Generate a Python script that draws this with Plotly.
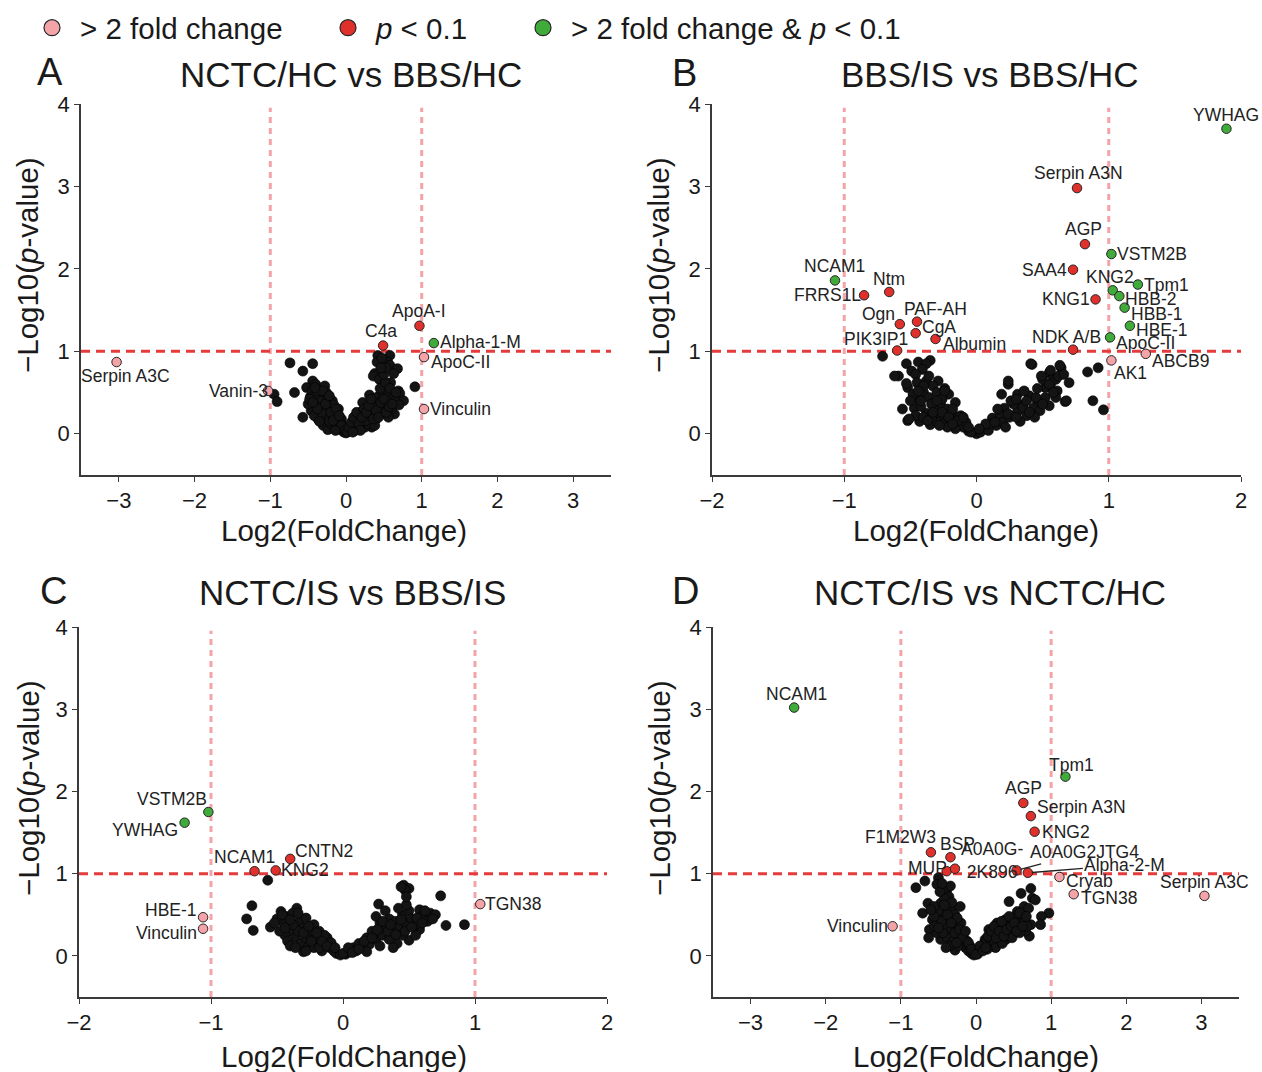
import plotly.graph_objects as go

FONT = "Liberation Sans, Arial, Helvetica, sans-serif"
W, H = 1262, 1072

# ======================= DATA =======================
# thresholds
fc_cut = 1.0          # |log2 fold change| = 1  (2-fold)
p_cut = 1.0           # -log10(0.1)

panel_letters = ["A", "B", "C", "D"]
panel_titles = ["NCTC/HC vs BBS/HC", "BBS/IS vs BBS/HC",
                "NCTC/IS vs BBS/IS", "NCTC/IS vs NCTC/HC"]
x_ticks_wide = [-3, -2, -1, 0, 1, 2, 3]
x_ticks_narrow = [-2, -1, 0, 1, 2]
y_ticks = [0, 1, 2, 3, 4]
x_title = "Log2(FoldChange)"
y_title = "\u2212Log10(<i>p</i>-value)"
legend_labels = {"fc": "&gt; 2 fold change",
                 "p": "<i>p</i> &lt; 0.1",
                 "both": "&gt; 2 fold change &amp; <i>p</i> &lt; 0.1"}

# ---- Panel A: non-significant proteins (log2FC, -log10 p) ----
a_ns = [(-0.95, 0.48), (-0.91, 0.39), (-0.74, 0.86), (-0.68, 0.50), (-0.57, 0.76), (-0.57, 0.20),
        (-0.44, 0.85), (-0.44, 0.64), (-0.52, 0.56), (-0.47, 0.45), (-0.40, 0.60), (-0.36, 0.50),
        (-0.28, 0.58), (-0.30, 0.44), (-0.33, 0.34), (-0.38, 0.40), (-0.42, 0.30), (-0.35, 0.25),
        (-0.30, 0.20), (-0.25, 0.38), (-0.22, 0.30), (-0.26, 0.12), (-0.20, 0.18), (-0.18, 0.40),
        (-0.15, 0.28), (-0.12, 0.22), (-0.14, 0.12), (-0.10, 0.15), (-0.08, 0.08), (-0.05, 0.05),
        (-0.03, 0.02), (0.00, 0.01), (-0.18, 0.08), (-0.22, 0.22), (-0.30, 0.10), (-0.37, 0.18),
        (-0.46, 0.28), (-0.50, 0.36), (-0.33, 0.48), (-0.26, 0.50), (-0.16, 0.35), (-0.10, 0.30),
        (-0.06, 0.18), (-0.04, 0.10), (-0.12, 0.05), (-0.28, 0.30), (-0.24, 0.05), (-0.20, 0.12),
        (-0.45, 0.52), (-0.40, 0.48), (-0.32, 0.40), (-0.24, 0.45), (-0.35, 0.32), (-0.42, 0.22),
        (-0.48, 0.42), (-0.38, 0.52), (-0.28, 0.24), (-0.22, 0.15), (-0.16, 0.20), (-0.08, 0.12),
        (-0.02, 0.06), (-0.35, 0.15), (-0.32, 0.26), (-0.27, 0.36), (-0.20, 0.26), (-0.17, 0.16),
        (-0.13, 0.30), (-0.09, 0.22), (-0.06, 0.10), (-0.01, 0.04), (-0.14, 0.04), (-0.38, 0.30),
        (-0.44, 0.38), (-0.31, 0.52), (-0.41, 0.56), (-0.22, 0.46),
        (0.42, 0.95), (0.58, 0.95), (0.41, 0.87), (0.55, 0.87), (0.58, 0.83), (0.68, 0.79),
        (0.63, 0.73), (0.38, 0.73), (0.36, 0.70), (0.44, 0.66), (0.59, 0.62), (0.51, 0.58),
        (0.69, 0.52), (0.91, 0.57), (0.71, 0.49), (0.76, 0.40), (0.64, 0.24), (0.31, 0.47),
        (0.34, 0.08), (0.05, 0.04), (0.08, 0.10), (0.10, 0.06), (0.12, 0.15), (0.15, 0.10),
        (0.18, 0.20), (0.20, 0.14), (0.22, 0.28), (0.25, 0.22), (0.28, 0.35), (0.30, 0.18),
        (0.32, 0.30), (0.35, 0.40), (0.38, 0.25), (0.40, 0.35), (0.42, 0.45), (0.45, 0.30),
        (0.48, 0.40), (0.50, 0.50), (0.52, 0.35), (0.55, 0.45), (0.58, 0.38), (0.60, 0.30),
        (0.62, 0.42), (0.48, 0.25), (0.40, 0.18), (0.25, 0.08), (0.15, 0.20), (0.28, 0.12),
        (0.38, 0.10), (0.22, 0.38), (0.36, 0.32), (0.65, 0.40), (0.56, 0.20), (0.45, 0.55),
        (0.52, 0.62), (0.58, 0.55), (0.66, 0.50), (0.70, 0.35), (0.50, 0.72), (0.47, 0.92),
        (0.53, 0.80), (0.46, 0.80), (0.02, 0.02), (0.12, 0.04), (0.18, 0.08), (0.26, 0.16),
        (0.33, 0.22), (0.42, 0.26), (0.50, 0.30), (0.55, 0.28), (0.04, 0.08), (0.07, 0.14),
        (0.10, 0.20), (0.14, 0.26), (0.17, 0.12), (0.21, 0.20), (0.24, 0.30), (0.27, 0.26),
        (0.30, 0.34), (0.33, 0.42), (0.36, 0.18), (0.40, 0.28), (0.43, 0.20), (0.46, 0.38),
        (0.50, 0.42), (0.53, 0.26), (0.57, 0.33), (0.61, 0.36), (0.19, 0.04), (0.09, 0.02)]
a_names = ["Serpin A3C", "Vanin-3", "C4a", "ApoA-I", "Alpha-1-M", "ApoC-II", "Vinculin"]
a_fc = [-3.03, -1.03, 0.49, 0.97, 1.16, 1.03, 1.03]
a_lp = [0.87, 0.52, 1.07, 1.31, 1.10, 0.93, 0.30]
a_cls = ["fc", "fc", "p", "p", "both", "fc", "fc"]

# ---- Panel B ----
b_ns = [(-0.71, 0.94), (-0.53, 0.85), (-0.44, 0.87), (-0.35, 0.89), (-0.38, 0.85), (-0.59, 0.70),
        (-0.49, 0.76), (-0.41, 0.78), (-0.46, 0.72), (-0.52, 0.56), (-0.38, 0.64), (-0.29, 0.64),
        (-0.33, 0.58), (-0.45, 0.62), (-0.47, 0.31), (-0.52, 0.16), (-0.43, 0.15), (-0.35, 0.11),
        (-0.21, 0.48), (-0.27, 0.35), (-0.18, 0.23), (-0.12, 0.11), (-0.06, 0.03), (0.00, 0.00),
        (-0.40, 0.50), (-0.44, 0.42), (-0.36, 0.44), (-0.30, 0.50), (-0.24, 0.55), (-0.32, 0.30),
        (-0.38, 0.25), (-0.42, 0.33), (-0.28, 0.20), (-0.22, 0.30), (-0.16, 0.38), (-0.26, 0.42),
        (-0.34, 0.36), (-0.30, 0.14), (-0.24, 0.12), (-0.20, 0.18), (-0.14, 0.16), (-0.10, 0.08),
        (-0.16, 0.06), (-0.08, 0.14), (-0.04, 0.02), (-0.22, 0.08), (-0.48, 0.48), (-0.40, 0.58),
        (-0.36, 0.70), (-0.30, 0.40), (-0.18, 0.30), (-0.12, 0.22), (-0.26, 0.26), (-0.46, 0.22),
        (-0.40, 0.20), (-0.34, 0.20), (-0.62, 0.70), (-0.53, 0.61), (-0.44, 0.52), (-0.24, 0.52),
        (-0.51, 0.18), (-0.37, 0.16), (-0.21, 0.20), (-0.14, 0.16), (-0.06, 0.08), (-0.42, 0.40),
        (-0.33, 0.26), (-0.28, 0.10), (-0.18, 0.12), (-0.10, 0.20), (-0.50, 0.40), (-0.56, 0.30),
        (0.42, 0.84), (0.55, 0.74), (0.64, 0.80), (0.58, 0.68), (0.52, 0.56), (0.61, 0.52),
        (0.67, 0.39), (0.84, 0.75), (0.92, 0.80), (0.88, 0.40), (0.96, 0.29), (0.24, 0.60),
        (0.31, 0.48), (0.40, 0.46), (0.46, 0.39), (0.21, 0.31), (0.12, 0.19), (0.18, 0.23),
        (0.31, 0.27), (0.43, 0.31), (0.06, 0.07), (0.03, 0.02), (0.09, 0.04), (0.15, 0.10),
        (0.20, 0.14), (0.25, 0.20), (0.28, 0.36), (0.35, 0.35), (0.38, 0.22), (0.48, 0.28),
        (0.52, 0.44), (0.56, 0.60), (0.60, 0.66), (0.62, 0.70), (0.50, 0.66), (0.36, 0.52),
        (0.26, 0.40), (0.16, 0.30), (0.10, 0.12), (0.22, 0.08), (0.33, 0.15), (0.44, 0.20),
        (0.55, 0.34), (0.60, 0.44), (0.66, 0.72), (0.70, 0.62), (0.19, 0.48), (0.24, 0.64),
        (0.41, 0.85), (0.49, 0.70), (0.56, 0.77), (0.63, 0.83), (0.55, 0.60), (0.68, 0.40),
        (0.45, 0.44), (0.35, 0.32), (0.24, 0.24), (0.07, 0.12), (0.02, 0.06), (0.14, 0.14),
        (0.30, 0.20), (0.40, 0.26), (0.50, 0.36), (0.58, 0.50), (0.46, 0.55), (0.38, 0.40),
        (0.30, 0.42)]
b_names = ["YWHAG", "Serpin A3N", "AGP", "VSTM2B", "SAA4", "KNG2", "Tpm1", "HBB-2", "KNG1",
           "HBB-1", "HBE-1", "ApoC-II", "NDK A/B", "ABCB9", "AK1", "NCAM1", "FRRS1L", "Ntm",
           "Ogn", "PAF-AH", "CgA", "Albumin", "PIK3IP1"]
b_fc = [1.89, 0.76, 0.82, 1.02, 0.73, 1.03, 1.22, 1.08, 0.90, 1.12, 1.16, 1.01, 0.73, 1.28,
        1.02, -1.07, -0.85, -0.66, -0.58, -0.45, -0.46, -0.31, -0.60]
b_lp = [3.70, 2.98, 2.30, 2.18, 1.99, 1.74, 1.81, 1.67, 1.63, 1.53, 1.31, 1.17, 1.02, 0.97,
        0.89, 1.86, 1.68, 1.72, 1.33, 1.36, 1.22, 1.15, 1.01]
b_cls = ["both", "p", "p", "both", "p", "both", "both", "both", "p", "both", "both", "both",
         "p", "fc", "fc", "both", "p", "p", "p", "p", "p", "p", "p"]

# ---- Panel C ----
c_ns = [(-0.57, 0.92), (-0.69, 0.61), (-0.73, 0.45), (-0.68, 0.31), (-0.55, 0.35), (-0.47, 0.54),
        (-0.35, 0.58), (-0.42, 0.48), (-0.38, 0.52), (-0.33, 0.42), (-0.45, 0.40), (-0.40, 0.30),
        (-0.36, 0.22), (-0.30, 0.34), (-0.28, 0.46), (-0.25, 0.28), (-0.22, 0.38), (-0.20, 0.20),
        (-0.18, 0.30), (-0.15, 0.14), (-0.12, 0.22), (-0.10, 0.10), (-0.07, 0.06), (-0.05, 0.03),
        (-0.02, 0.01), (-0.32, 0.15), (-0.26, 0.12), (-0.44, 0.25), (-0.50, 0.45), (-0.48, 0.30),
        (-0.42, 0.18), (-0.34, 0.30), (-0.28, 0.22), (-0.22, 0.10), (-0.16, 0.06), (-0.30, 0.05),
        (-0.38, 0.38), (-0.46, 0.50), (-0.24, 0.18), (-0.14, 0.25), (-0.09, 0.16), (-0.18, 0.10),
        (-0.52, 0.40), (-0.40, 0.12), (-0.30, 0.28), (-0.26, 0.36), (-0.20, 0.28), (-0.16, 0.18),
        (-0.12, 0.12), (-0.06, 0.10), (-0.34, 0.52), (-0.40, 0.44), (-0.44, 0.34), (-0.36, 0.10),
        (-0.28, 0.06),
        (0.46, 0.86), (0.50, 0.82), (0.47, 0.80), (0.74, 0.73), (0.78, 0.37), (0.92, 0.38),
        (0.58, 0.56), (0.66, 0.52), (0.58, 0.32), (0.50, 0.19), (0.41, 0.15), (0.27, 0.63),
        (0.02, 0.02), (0.05, 0.05), (0.08, 0.10), (0.10, 0.06), (0.12, 0.15), (0.15, 0.10),
        (0.18, 0.22), (0.20, 0.14), (0.22, 0.30), (0.25, 0.20), (0.28, 0.40), (0.30, 0.25),
        (0.32, 0.35), (0.35, 0.45), (0.38, 0.30), (0.40, 0.42), (0.43, 0.35), (0.45, 0.50),
        (0.48, 0.40), (0.50, 0.55), (0.52, 0.45), (0.55, 0.38), (0.60, 0.48), (0.62, 0.55),
        (0.64, 0.42), (0.70, 0.50), (0.35, 0.20), (0.28, 0.12), (0.45, 0.25), (0.55, 0.25),
        (0.18, 0.05), (0.38, 0.10), (0.32, 0.55), (0.25, 0.48), (0.42, 0.58), (0.48, 0.62),
        (0.00, 0.03), (0.04, 0.10), (0.07, 0.04), (0.12, 0.08), (0.16, 0.18), (0.22, 0.22),
        (0.26, 0.32), (0.30, 0.42), (0.34, 0.30), (0.36, 0.38), (0.40, 0.26), (0.44, 0.44),
        (0.47, 0.30), (0.52, 0.35), (0.56, 0.46), (0.44, 0.84), (0.48, 0.72), (0.60, 0.40),
        (0.68, 0.45)]
c_names = ["VSTM2B", "YWHAG", "CNTN2", "NCAM1", "KNG2", "HBE-1", "Vinculin", "TGN38"]
c_fc = [-1.02, -1.20, -0.40, -0.67, -0.51, -1.06, -1.06, 1.04]
c_lp = [1.75, 1.62, 1.18, 1.03, 1.04, 0.47, 0.33, 0.63]
c_cls = ["both", "both", "p", "p", "p", "fc", "fc", "fc"]

# ---- Panel D ----
d_ns = [(-0.80, 0.83), (-0.68, 0.91), (-0.50, 0.95), (-0.52, 0.87), (-0.39, 0.80), (-0.36, 0.72),
        (-0.31, 0.60), (-0.21, 0.60), (-0.47, 0.64), (-0.64, 0.64), (-0.71, 0.52), (-0.58, 0.44),
        (-0.62, 0.32), (-0.63, 0.22), (-0.47, 0.20), (-0.28, 0.07), (-0.42, 0.36), (-0.52, 0.28),
        (-0.44, 0.50), (-0.40, 0.58), (-0.35, 0.45), (-0.30, 0.38), (-0.26, 0.30), (-0.22, 0.22),
        (-0.18, 0.15), (-0.14, 0.10), (-0.10, 0.06), (-0.06, 0.03), (-0.03, 0.01), (-0.34, 0.30),
        (-0.38, 0.22), (-0.30, 0.18), (-0.24, 0.12), (-0.46, 0.42), (-0.50, 0.55), (-0.56, 0.60),
        (-0.42, 0.70), (-0.34, 0.85), (-0.28, 0.50), (-0.20, 0.40), (-0.16, 0.28), (-0.12, 0.18),
        (-0.36, 0.12), (-0.44, 0.28), (-0.55, 0.36), (-0.48, 0.78), (-0.32, 0.65), (-0.25, 0.46),
        (-0.08, 0.12), (-0.45, 0.88), (-0.42, 0.62), (-0.38, 0.50), (-0.33, 0.40), (-0.28, 0.28),
        (-0.22, 0.32), (-0.18, 0.22), (-0.14, 0.30), (-0.10, 0.16), (-0.06, 0.08), (-0.40, 0.10),
        (-0.26, 0.16), (-0.50, 0.34), (-0.56, 0.48), (-0.60, 0.56),
        (0.73, 0.82), (0.75, 0.70), (0.79, 0.68), (0.60, 0.76), (0.44, 0.66), (0.55, 0.54),
        (0.97, 0.52), (0.87, 0.48), (0.86, 0.38), (0.71, 0.24), (0.73, 0.38), (0.57, 0.44),
        (0.39, 0.44), (0.28, 0.40), (0.17, 0.32), (0.12, 0.20), (0.06, 0.07), (0.02, 0.02),
        (0.04, 0.05), (0.08, 0.10), (0.10, 0.14), (0.14, 0.18), (0.18, 0.22), (0.20, 0.12),
        (0.22, 0.28), (0.25, 0.18), (0.28, 0.30), (0.30, 0.22), (0.33, 0.36), (0.35, 0.28),
        (0.38, 0.32), (0.40, 0.20), (0.42, 0.38), (0.45, 0.30), (0.48, 0.42), (0.50, 0.35),
        (0.52, 0.48), (0.55, 0.38), (0.60, 0.40), (0.62, 0.50), (0.65, 0.42), (0.66, 0.30),
        (0.68, 0.36), (0.26, 0.10), (0.15, 0.08), (0.35, 0.15), (0.48, 0.22), (0.58, 0.28),
        (0.64, 0.60), (0.70, 0.58), (0.00, 0.02), (0.05, 0.12), (0.09, 0.06), (0.13, 0.10),
        (0.16, 0.24), (0.20, 0.30), (0.24, 0.36), (0.27, 0.22), (0.31, 0.30), (0.34, 0.42),
        (0.37, 0.24), (0.41, 0.32), (0.44, 0.48), (0.47, 0.36), (0.51, 0.40), (0.54, 0.30),
        (0.58, 0.52), (0.62, 0.36), (0.67, 0.48)]
d_names = ["NCAM1", "Tpm1", "AGP", "Serpin A3N", "KNG2", "F1M2W3", "BSP", "MUP",
           "A0A0G-<br>2K896", "A0A0G2JTG4", "Alpha-2-M", "Cryab", "TGN38", "Serpin A3C", "Vinculin"]
d_fc = [-2.42, 1.19, 0.63, 0.73, 0.78, -0.60, -0.34, -0.39, -0.28, 0.54, 0.69, 1.11, 1.30,
        3.04, -1.11]
d_lp = [3.02, 2.18, 1.86, 1.70, 1.51, 1.26, 1.20, 1.03, 1.06, 1.04, 1.01, 0.96, 0.75, 0.73,
        0.36]
d_cls = ["both", "both", "p", "p", "p", "p", "p", "p", "p", "p", "p", "fc", "fc", "fc", "fc"]

# ======================= STYLE =======================
colors = {"fc": "#F4A3A8", "p": "#E0302B", "both": "#40AA3A", "ns": "#141414"}

# plot-area boxes in pixels: (left, right, top, bottom)
boxes = [(81, 611, 104, 475), (712, 1241, 104, 475), (79, 607, 627, 997), (713, 1239, 627, 997)]
x_ranges = [(-3.5, 3.5), (-2, 2), (-2, 2), (-3.5, 3.5)]
x_tickvals = [x_ticks_wide, x_ticks_narrow, x_ticks_narrow, x_ticks_wide]
title_pos = [(351, 74), (990, 74), (352, 592), (990, 592)]
letter_pos = [(50, 72), (684, 73), (53, 591), (685, 591)]
xtitle_pos = [(344, 531), (976, 531), (344, 1056), (976, 1056)]
ytitle_pos = [(28, 265), (659, 265), (28, 788), (659, 788)]
LABEL_SIZE = 17.5

# label placement: (xanchor, yanchor, xshift, yshift) or ("arrow", ax, ay)
label_layout = [
    {"Serpin A3C": ("center", "top", 9, -2), "Vanin-3": ("right", "middle", 2, 0),
     "C4a": ("center", "bottom", -2, 3), "ApoA-I": ("center", "bottom", 0, 3),
     "Alpha-1-M": ("left", "middle", 4, 1), "ApoC-II": ("left", "middle", 5, -5),
     "Vinculin": ("left", "middle", 4, 0)},
    {"YWHAG": ("center", "bottom", 0, 2), "Serpin A3N": ("center", "bottom", 1, 3),
     "AGP": ("center", "bottom", -1, 3), "VSTM2B": ("left", "middle", 4, 0),
     "SAA4": ("right", "middle", -4, 0), "KNG2": ("center", "bottom", -3, 1),
     "Tpm1": ("left", "middle", 4, 0), "HBB-2": ("left", "middle", 4, -3),
     "KNG1": ("right", "middle", -4, 0), "HBB-1": ("left", "middle", 4, -6),
     "HBE-1": ("left", "middle", 4, -4), "ApoC-II": ("left", "middle", 4, -6),
     "NDK A/B": ("center", "bottom", -7, 1), "ABCB9": ("left", "middle", 4, -7),
     "AK1": ("left", "top", 1, -1), "NCAM1": ("center", "bottom", 0, 2),
     "FRRS1L": ("right", "middle", -1, 0), "Ntm": ("center", "bottom", 0, 1),
     "Ogn": ("right", "middle", -3, 10), "PAF-AH": ("center", "bottom", 19, 1),
     "CgA": ("left", "middle", 4, 6), "Albumin": ("left", "middle", 6, -5),
     "PIK3IP1": ("center", "bottom", -21, 0)},
    {"VSTM2B": ("center", "bottom", -36, 1), "YWHAG": ("right", "middle", -5, -7),
     "CNTN2": ("left", "middle", 3, 8), "NCAM1": ("center", "bottom", -10, 2),
     "KNG2": ("left", "middle", 3, 0), "HBE-1": ("right", "middle", -4, 7),
     "Vinculin": ("right", "middle", -4, -4), "TGN38": ("left", "middle", 3, 0)},
    {"NCAM1": ("center", "bottom", 2, 2), "Tpm1": ("center", "bottom", 6, 0),
     "AGP": ("center", "bottom", 0, 3), "Serpin A3N": ("left", "middle", 4, 9),
     "KNG2": ("left", "middle", 5, 0), "F1M2W3": ("center", "bottom", -30, 3),
     "BSP": ("center", "bottom", 7, 1), "MUP": ("right", "middle", 2, 3),
     "A0A0G-<br>2K896": ("left", "middle", 4, 8), "A0A0G2JTG4": ("arrow", 68, -18),
     "Alpha-2-M": ("arrow", 97, -8), "Cryab": ("left", "middle", 5, -4),
     "TGN38": ("left", "middle", 5, -4), "Serpin A3C": ("center", "bottom", 0, 2),
     "Vinculin": ("right", "middle", -3, 0)},
]

panels = [
    dict(ns=a_ns, names=a_names, fc=a_fc, lp=a_lp, cls=a_cls),
    dict(ns=b_ns, names=b_names, fc=b_fc, lp=b_lp, cls=b_cls),
    dict(ns=c_ns, names=c_names, fc=c_fc, lp=c_lp, cls=c_cls),
    dict(ns=d_ns, names=d_names, fc=d_fc, lp=d_lp, cls=d_cls),
]

fig = go.Figure()
layout = dict(width=W, height=H, margin=dict(l=0, r=0, t=0, b=0, autoexpand=False),
              paper_bgcolor="white", plot_bgcolor="white",
              font=dict(family=FONT, color="#1a1a1a"))
annotations, shapes = [], []

axis_common = dict(showline=True, linecolor="#3a3a3a", linewidth=1.5, ticks="outside",
                   ticklen=5, tickwidth=1.2, tickcolor="#3a3a3a", showgrid=False,
                   zeroline=False, automargin=False,
                   tickfont=dict(family=FONT, size=22, color="#1a1a1a"))


def px_x(v):
    return v / W


def px_y(v):
    return 1 - v / H


for i, pnl in enumerate(panels):
    n = "" if i == 0 else str(i + 1)
    xr, yr = "x" + n, "y" + n
    l, r, t, b = boxes[i]
    layout["xaxis" + n] = dict(axis_common, domain=[px_x(l), px_x(r)], anchor=yr,
                               range=list(x_ranges[i]), tickvals=x_tickvals[i])
    layout["yaxis" + n] = dict(axis_common, domain=[px_y(b), px_y(t)], anchor=xr,
                               range=[-0.5, 4], tickvals=y_ticks)

    # threshold lines
    for xv in (-fc_cut, fc_cut):
        shapes.append(dict(type="line", xref=xr, yref=yr + " domain", x0=xv, x1=xv,
                           y0=0, y1=0.99, layer="below",
                           line=dict(color="#F4A3A8", width=3, dash="6px,5px")))
    shapes.append(dict(type="line", xref=xr + " domain", yref=yr, x0=0, x1=1,
                       y0=p_cut, y1=p_cut, layer="below",
                       line=dict(color="#E53B3B", width=3, dash="9px,6px")))

    # non-significant proteins
    fig.add_trace(go.Scatter(
        x=[p[0] for p in pnl["ns"]], y=[p[1] for p in pnl["ns"]], mode="markers",
        xaxis=xr, yaxis=yr, showlegend=False, hoverinfo="skip",
        marker=dict(size=10, color=colors["ns"], line=dict(width=0.6, color="#000"))))

    # highlighted proteins
    for cat in ("fc", "p", "both"):
        idx = [k for k, c in enumerate(pnl["cls"]) if c == cat]
        if not idx:
            continue
        fig.add_trace(go.Scatter(
            x=[pnl["fc"][k] for k in idx], y=[pnl["lp"][k] for k in idx],
            text=[pnl["names"][k] for k in idx], mode="markers",
            xaxis=xr, yaxis=yr, showlegend=False, name=legend_labels[cat],
            marker=dict(size=9.5, color=colors[cat], line=dict(width=1, color="#262626"))))

    # labels
    for k, name in enumerate(pnl["names"]):
        spec = label_layout[i][name]
        base = dict(x=pnl["fc"][k], y=pnl["lp"][k], xref=xr, yref=yr, text=name,
                    font=dict(family=FONT, size=LABEL_SIZE, color="#222"))
        if spec[0] == "arrow":
            base.update(showarrow=True, ax=spec[1], ay=spec[2], arrowhead=0,
                        arrowwidth=1.3, arrowcolor="#222", standoff=4)
        else:
            base.update(showarrow=False, xanchor=spec[0], yanchor=spec[1],
                        xshift=spec[2], yshift=spec[3])
        annotations.append(base)

    # panel titles / letters / axis titles
    annotations.append(dict(text=panel_titles[i], xref="paper", yref="paper",
                            x=px_x(title_pos[i][0]), y=px_y(title_pos[i][1]),
                            xanchor="center", yanchor="middle", showarrow=False,
                            font=dict(family=FONT, size=35, color="#1a1a1a")))
    annotations.append(dict(text=panel_letters[i], xref="paper", yref="paper",
                            x=px_x(letter_pos[i][0]), y=px_y(letter_pos[i][1]),
                            xanchor="center", yanchor="middle", showarrow=False,
                            font=dict(family=FONT, size=38, color="#1a1a1a")))
    annotations.append(dict(text=x_title, xref="paper", yref="paper",
                            x=px_x(xtitle_pos[i][0]), y=px_y(xtitle_pos[i][1]),
                            xanchor="center", yanchor="middle", showarrow=False,
                            font=dict(family=FONT, size=29.5, color="#1a1a1a")))
    annotations.append(dict(text=y_title, xref="paper", yref="paper", textangle=-90,
                            x=px_x(ytitle_pos[i][0]), y=px_y(ytitle_pos[i][1]),
                            xanchor="center", yanchor="middle", showarrow=False,
                            font=dict(family=FONT, size=29.5, color="#1a1a1a")))

# legend: one legend box per category
legend_x = [52, 348, 543]
for j, cat in enumerate(("fc", "p", "both")):
    lname = "legend" if j == 0 else "legend" + str(j + 1)
    fig.add_trace(go.Scatter(
        x=[None], y=[None], mode="markers", name=legend_labels[cat], legend=lname,
        xaxis="x", yaxis="y", showlegend=True,
        marker=dict(size=16, color=colors[cat], line=dict(width=1.2, color="#262626"))))
    layout[lname] = dict(x=px_x(legend_x[j] - 28), xanchor="left", y=px_y(28),
                         yanchor="middle", orientation="h", itemwidth=46,
                         bgcolor="rgba(0,0,0,0)", borderwidth=0,
                         font=dict(family=FONT, size=29.5, color="#1a1a1a"))

layout["annotations"] = annotations
layout["shapes"] = shapes
fig.update_layout(**layout)
# remove the browser's default 8px page margin so the figure fills the window exactly
fig.write_html("out.html", config={"displayModeBar": False},
               post_script="document.body.style.margin='0px';")
